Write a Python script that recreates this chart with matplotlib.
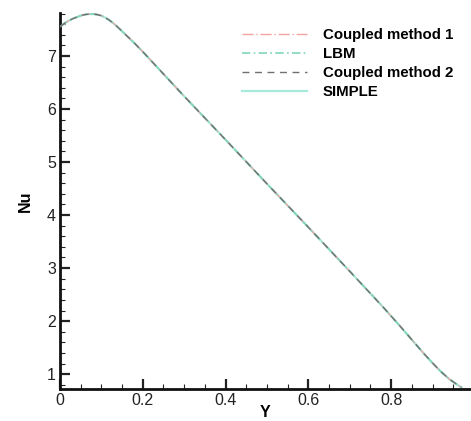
import matplotlib
matplotlib.use("Agg")
from matplotlib import pyplot as plt
from matplotlib.ticker import MultipleLocator

# Nusselt number along the wall
y_pos = [0, 0.01, 0.02, 0.03, 0.04, 0.05, 0.06, 0.07, 0.08, 0.09, 0.10, 0.11, 0.12, 0.13, 0.14,
         0.16, 0.18, 0.20, 0.25, 0.30, 0.40, 0.50, 0.60, 0.70, 0.78, 0.82, 0.85, 0.88, 0.90,
         0.92, 0.94, 0.96, 0.97]
nu_coupled1 = [7.55, 7.61, 7.66, 7.70, 7.73, 7.76, 7.78, 7.79, 7.79, 7.78, 7.76, 7.72, 7.67, 7.61, 7.54,
               7.39, 7.24, 7.08, 6.66, 6.24, 5.42, 4.59, 3.77, 2.94, 2.27, 1.92, 1.65, 1.38, 1.21,
               1.05, 0.91, 0.80, 0.75]
nu_lbm = list(nu_coupled1)
nu_coupled2 = list(nu_coupled1)
nu_simple = list(nu_coupled1)

plt.rcParams['font.family'] = ['Liberation Sans', 'DejaVu Sans']

fig = plt.figure(figsize=(4.71, 4.21), dpi=100)
ax = fig.add_axes([60 / 471, 32 / 421, 1 - 60 / 471, (389 - 13) / 421])

ax.plot(y_pos, nu_simple, color="#a6eadb", lw=1.6, label="SIMPLE", zorder=2)
ax.plot(y_pos, nu_coupled1, color="#f4a3a3", lw=1.0, ls=(0, (8, 2, 1, 2)), label="Coupled method 1", zorder=3)
ax.plot(y_pos, nu_lbm, color="#7fd6bb", lw=1.2, ls=(0, (5, 2, 1, 2)), label="LBM", zorder=4)
ax.plot(y_pos, nu_coupled2, color="#707070", lw=1.0, ls=(0, (5, 4)), label="Coupled method 2", zorder=5)

ax.set_xlim(0, 0.993)
ax.set_ylim(0.72, 7.81)

ax.xaxis.set_major_locator(MultipleLocator(0.2))
ax.xaxis.set_minor_locator(MultipleLocator(0.05))
ax.yaxis.set_major_locator(MultipleLocator(1))
ax.yaxis.set_minor_locator(MultipleLocator(0.2))
ax.set_xticks([0, 0.2, 0.4, 0.6, 0.8])
ax.set_xticklabels(["0", "0.2", "0.4", "0.6", "0.8"])

ax.tick_params(which="major", direction="in", length=7, width=1.6, labelsize=11.5, pad=3, colors="#222222")
ax.tick_params(which="minor", direction="in", length=3.5, width=0.8, colors="#222222")
ax.tick_params(top=False, right=False)

for side in ["top", "right"]:
    ax.spines[side].set_visible(False)
for side in ["left", "bottom"]:
    ax.spines[side].set_linewidth(2)
    ax.spines[side].set_color("#111111")

ax.set_xlabel("Y", fontsize=11.5, fontweight="bold", labelpad=-2)
ax.set_ylabel("Nu", fontsize=11.5, fontweight="bold", labelpad=10)

handles, labels = ax.get_legend_handles_labels()
order = [1, 2, 3, 0]
ax.legend([handles[i] for i in order], [labels[i] for i in order],
          loc="upper right", bbox_to_anchor=(0.99, 0.995), frameon=False,
          prop={"weight": "bold", "size": 10.8}, handlelength=4.3, handletextpad=1.1,
          labelspacing=0.32)

fig.savefig("out.png", dpi=100)
